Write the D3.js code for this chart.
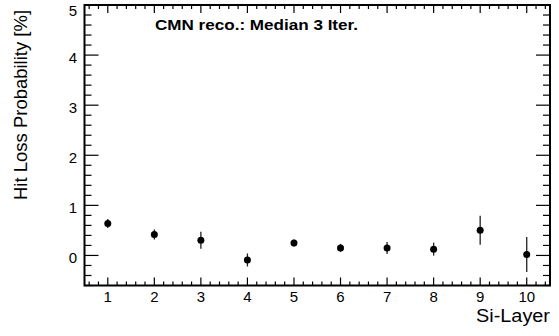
<!DOCTYPE html>
<html>
<head>
<meta charset="utf-8">
<script src="https://cdn.jsdelivr.net/npm/d3@7"></script>
</head>
<body style="margin:0">
<div id="chart"></div>
<script>
// data
var layers = [1, 2, 3, 4, 5, 6, 7, 8, 9, 10];
var lossProb = [0.64, 0.42, 0.305, -0.09, 0.25, 0.15, 0.15, 0.126, 0.505, 0.02];
var lossErr = [0.09, 0.1, 0.17, 0.13, 0.07, 0.08, 0.12, 0.13, 0.29, 0.35];
var yTicks = [0, 1, 2, 3, 4, 5];

var width = 559, height = 336;
var padL = 84.5, padR = 550, padT = 5, padB = 285.5;

var svg = d3.select("#chart").append("svg")
    .attr("width", width)
    .attr("height", height)
    .attr("font-family", "Liberation Sans, Arial, sans-serif");

var x = d3.scaleLinear().domain([0.5, 10.5]).range([padL, padR]);
var y = d3.scaleLinear().domain([-0.6, 5]).range([padB, padT]);

// minor ticks every 0.2
var xMinor = d3.range(0.6, 10.5, 0.2).filter(function (v) { return Math.abs(v - Math.round(v)) > 0.01; });
var yMinor = d3.range(-0.6, 5, 0.2).filter(function (v) { return Math.abs(v - Math.round(v)) > 0.01; });

// frame
svg.append("path")
    .attr("d", "M" + padL + "," + padT + "H" + padR + "V" + padB + "H" + padL + "Z")
    .attr("fill", "none").attr("stroke", "#000").attr("stroke-width", 2);

// ticks
function xTickLines(vals, len) {
    svg.append("g").selectAll("line").data(vals).enter().append("line")
        .attr("x1", d => x(d)).attr("x2", d => x(d))
        .attr("y1", padB).attr("y2", padB - len)
        .attr("stroke", "#000").attr("stroke-width", 1.2);
    svg.append("g").selectAll("line").data(vals).enter().append("line")
        .attr("x1", d => x(d)).attr("x2", d => x(d))
        .attr("y1", padT).attr("y2", padT + len)
        .attr("stroke", "#000").attr("stroke-width", 1.2);
}
function yTickLines(vals, len) {
    svg.append("g").selectAll("line").data(vals).enter().append("line")
        .attr("x1", padL).attr("x2", padL + len)
        .attr("y1", d => y(d)).attr("y2", d => y(d))
        .attr("stroke", "#000").attr("stroke-width", 1.2);
    svg.append("g").selectAll("line").data(vals).enter().append("line")
        .attr("x1", padR).attr("x2", padR - len)
        .attr("y1", d => y(d)).attr("y2", d => y(d))
        .attr("stroke", "#000").attr("stroke-width", 1.2);
}
xTickLines(layers, 8);
xTickLines(xMinor, 4);
yTickLines(yTicks, 14);
yTickLines(yMinor, 7);

// tick labels
svg.append("g").selectAll("text").data(layers).enter().append("text")
    .attr("x", d => x(d)).attr("y", 302)
    .attr("text-anchor", "middle")
    .attr("font-size", 15)
    .text(d => d);
svg.append("g").selectAll("text").data(yTicks).enter().append("text")
    .attr("x", 77).attr("y", d => Math.max(y(d) + 7.5, 15.5))
    .attr("text-anchor", "end")
    .attr("font-size", 15)
    .text(d => d);

// axis titles
svg.append("text")
    .attr("x", padR).attr("y", 322)
    .attr("text-anchor", "end")
    .attr("font-size", 17.5)
    .attr("textLength", 74)
    .attr("lengthAdjust", "spacingAndGlyphs")
    .text("Si-Layer");
svg.append("text")
    .attr("transform", "translate(27,10) rotate(-90)")
    .attr("text-anchor", "end")
    .attr("font-size", 17.5)
    .attr("textLength", 190)
    .attr("lengthAdjust", "spacingAndGlyphs")
    .text("Hit Loss Probability [%]");

// label
svg.append("text")
    .attr("x", 155).attr("y", 30)
    .attr("font-size", 14)
    .attr("font-weight", "bold")
    .attr("textLength", 203)
    .attr("lengthAdjust", "spacingAndGlyphs")
    .text("CMN reco.: Median 3 Iter.");

// points with error bars
var pts = svg.append("g");
pts.selectAll("line").data(layers).enter().append("line")
    .attr("x1", d => x(d)).attr("x2", d => x(d))
    .attr("y1", (d, i) => y(lossProb[i] - lossErr[i]))
    .attr("y2", (d, i) => y(lossProb[i] + lossErr[i]))
    .attr("stroke", "#222").attr("stroke-width", 1.3);
pts.selectAll("circle").data(layers).enter().append("circle")
    .attr("cx", d => x(d))
    .attr("cy", (d, i) => y(lossProb[i]))
    .attr("r", 3.5)
    .attr("fill", "#000");
</script>
</body>
</html>
